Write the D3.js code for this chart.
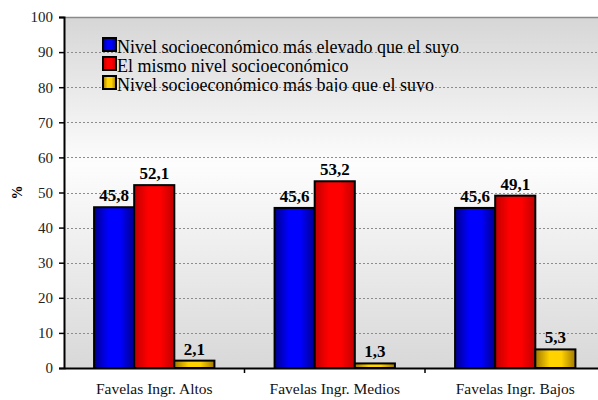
<!DOCTYPE html>
<html><head><meta charset="utf-8">
<script src="https://cdn.jsdelivr.net/npm/d3@7"></script>
<style>body{margin:0;background:#fff}svg{display:block}</style>
</head><body>
<script>
const categories = ["Favelas Ingr. Altos", "Favelas Ingr. Medios", "Favelas Ingr. Bajos"];
const seriesNames = ["Nivel socioeconómico más elevado que el suyo", "El mismo nivel socioeconómico", "Nivel socioeconómico más bajo que el suyo"];
const seriesHigher = [45.8, 45.6, 45.6];
const seriesSame = [52.1, 53.2, 49.1];
const seriesLower = [2.1, 1.3, 5.3];
const yTicks = [0, 10, 20, 30, 40, 50, 60, 70, 80, 90, 100];

const FONT = "Liberation Serif";
const W = 598, H = 400;
const m = {l: 64, r: 0, t: 17, b: 32};
const svg = d3.select("body").append("svg").attr("width", W).attr("height", H).attr("font-family", FONT);
const defs = svg.append("defs");

const bg = defs.append("linearGradient").attr("id", "bg").attr("x1", 0).attr("x2", 0).attr("y1", 0).attr("y2", 1);
[[0, "#d6d6d6"], [0.42, "#fdfdfd"], [1, "#d8d8d8"]].forEach(([o, c]) => bg.append("stop").attr("offset", o).attr("stop-color", c));

const cols = [["#00008c", "#0000ff", "#00008c"], ["#c00000", "#ff0000", "#c00000"], ["#a07800", "#ffd200", "#a07800"]];
cols.forEach((c, i) => {
  const g = defs.append("linearGradient").attr("id", "g" + i);
  g.append("stop").attr("offset", 0).attr("stop-color", c[0]);
  g.append("stop").attr("offset", 0.35).attr("stop-color", c[1]);
  g.append("stop").attr("offset", 0.65).attr("stop-color", c[1]);
  g.append("stop").attr("offset", 1).attr("stop-color", c[2]);
});

const x0 = d3.scaleBand().domain(categories).range([m.l, m.l + 541.5]).paddingInner(0).paddingOuter(0);
const keys = [0, 1, 2];
const x1 = d3.scaleBand().domain(keys).range([0, x0.bandwidth()]).paddingOuter(0.75).paddingInner(0);
const y = d3.scaleLinear().domain([0, 100]).range([H - m.b, m.t]);

// plot background
svg.append("rect").attr("x", m.l).attr("y", m.t).attr("width", W - m.l).attr("height", y(0) - m.t).attr("fill", "url(#bg)");
svg.append("line").attr("x1", m.l).attr("x2", W).attr("y1", m.t + 0.5).attr("y2", m.t + 0.5).attr("stroke", "#8a8a8a").attr("stroke-width", 1.5);

// grid
svg.append("g").selectAll("line").data(yTicks.filter(t => t > 0 && t < 100)).join("line")
  .attr("x1", m.l + 3).attr("x2", W).attr("y1", d => Math.round(y(d)) + 0.5).attr("y2", d => Math.round(y(d)) + 0.5)
  .attr("stroke", "#8c8c8c").attr("stroke-width", 1).attr("stroke-dasharray", "2,2");

// legend (clipped like the original)
defs.append("clipPath").attr("id", "lc").append("rect").attr("x", 95).attr("y", 30).attr("width", 420).attr("height", 62);
const leg = svg.append("g").attr("clip-path", "url(#lc)");
seriesNames.forEach((n, i) => {
  const gy = 38 + i * 19;
  leg.append("rect").attr("x", 103).attr("y", gy).attr("width", 13).attr("height", 13).attr("fill", `url(#g${i})`).attr("stroke", "#000").attr("stroke-width", 2);
  leg.append("text").attr("x", 117).attr("y", gy + 15).attr("font-family", FONT).attr("font-size", 18).attr("fill", "#000").text(n);
});

const data = categories.map((c, i) => ({cat: c, vals: [seriesHigher[i], seriesSame[i], seriesLower[i]]}));
const gg = svg.append("g").selectAll("g").data(data).join("g").attr("transform", d => `translate(${x0(d.cat)},0)`);
gg.selectAll("rect").data(d => d.vals.map((v, k) => ({v, k}))).join("rect")
  .attr("x", d => x1(d.k)).attr("width", x1.bandwidth())
  .attr("y", d => y(d.v)).attr("height", d => y(0) - y(d.v))
  .attr("fill", d => `url(#g${d.k})`).attr("stroke", "#000").attr("stroke-width", 2);
gg.selectAll("text").data(d => d.vals.map((v, k) => ({v, k}))).join("text")
  .attr("x", d => x1(d.k) + x1.bandwidth() / 2).attr("y", d => y(d.v) - 6)
  .attr("text-anchor", "middle").attr("font-family", FONT).attr("font-size", 17).attr("font-weight", "bold").attr("fill", "#000")
  .text(d => d.v.toFixed(1).replace(".", ","));

// axes
const ya = svg.append("g").attr("transform", `translate(${m.l},0)`)
  .call(d3.axisLeft(y).tickValues(yTicks).tickSize(5).tickPadding(6));
ya.attr("font-family", FONT);
ya.select(".domain").attr("stroke", "#000").attr("stroke-width", 2);
ya.selectAll(".tick line").attr("stroke", "#000").attr("stroke-width", 1.5);
ya.selectAll("text").attr("font-family", FONT).attr("font-size", 15).attr("fill", "#222");

const xa = svg.append("g").attr("transform", `translate(0,${y(0)})`)
  .call(d3.axisBottom(x0).tickSize(0).tickPadding(15));
xa.attr("font-family", FONT);
xa.select(".domain").attr("stroke", "#000").attr("stroke-width", 2);
xa.selectAll("text").attr("font-family", FONT).attr("font-size", 15.5).attr("fill", "#111");
svg.append("g").selectAll("line").data(categories.slice(1)).join("line")
  .attr("x1", d => x0(d)).attr("x2", d => x0(d)).attr("y1", y(0)).attr("y2", y(0) + 5).attr("stroke", "#000").attr("stroke-width", 1.5);

svg.append("text").attr("transform", `translate(22,${y(50)}) rotate(-90)`).attr("text-anchor", "middle")
  .attr("font-family", FONT).attr("font-size", 14).attr("font-weight", "bold").text("%");
</script>
</body></html>
